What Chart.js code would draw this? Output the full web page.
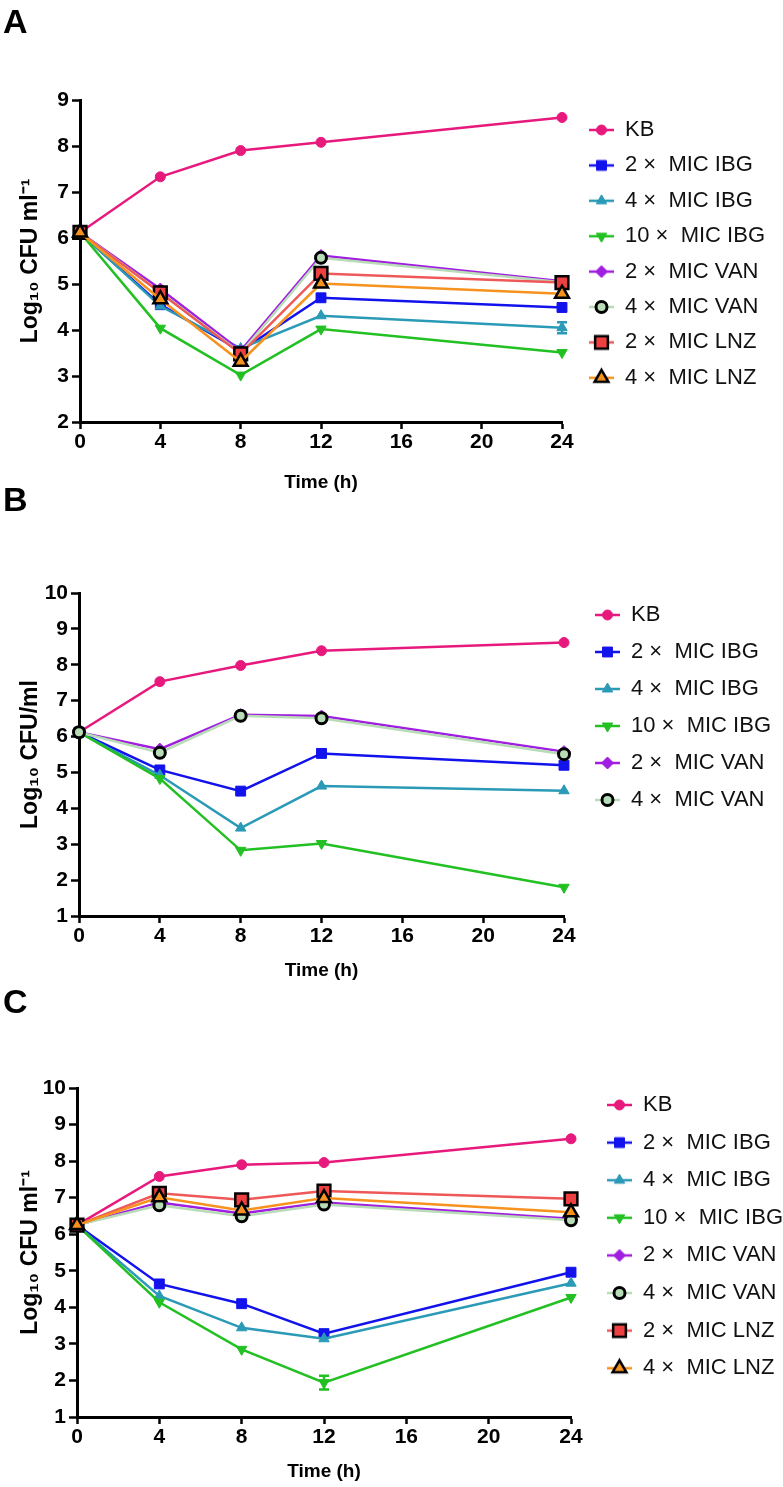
<!DOCTYPE html>
<html>
<head>
<meta charset="utf-8">
<script src="https://cdn.jsdelivr.net/npm/chart.js@4/dist/chart.umd.min.js"></script>
<style>
  body { margin: 0; background: #fff; width: 783px; height: 1487px; position: relative; overflow: hidden; }
  .panel { position: absolute; left: 0; width: 783px; }
  .letter { position: absolute; left: 3px; font: bold 34px/34px "Liberation Sans", Arial, sans-serif; color: #000; }
</style>
</head>
<body>
<div class="panel" style="top:0;height:500px"><canvas id="chartA"></canvas></div>
<div class="panel" style="top:480px;height:505px"><canvas id="chartB"></canvas></div>
<div class="panel" style="top:980px;height:507px"><canvas id="chartC"></canvas></div>
<div class="letter" style="top:4px">A</div>
<div class="letter" style="top:482px">B</div>
<div class="letter" style="top:984px">C</div>
<script>
var FONT = '"Liberation Sans", Arial, Helvetica, sans-serif';

var hours = [0, 4, 8, 12, 24];
var xTickValues = [0, 4, 8, 12, 16, 20, 24];
var yTicksA = [2, 3, 4, 5, 6, 7, 8, 9];
var yTicksBC = [1, 2, 3, 4, 5, 6, 7, 8, 9, 10];
var seriesNames = ["KB", "2 ×  MIC IBG", "4 ×  MIC IBG", "10 ×  MIC IBG", "2 ×  MIC VAN", "4 ×  MIC VAN", "2 ×  MIC LNZ", "4 ×  MIC LNZ"];
var xTitle = "Time (h)";
var yTitleAC = "Log₁₀ CFU ml⁻¹";
var yTitleB = "Log₁₀ CFU/ml";

// panel A
var aKB = [6.12, 7.33, 7.90, 8.08, 8.62];
var aIBG2 = [6.12, 4.55, 3.55, 4.70, 4.49];
var aIBG4 = [6.12, 4.52, 3.60, 4.31, 4.05];
var aIBG10 = [6.12, 4.04, 3.02, 4.02, 3.51];
var aVAN2 = [6.12, 4.89, 3.55, 5.62, 5.06];
var aVAN4 = [6.12, 4.82, 3.50, 5.57, 5.04];
var aLNZ2 = [6.12, 4.81, 3.48, 5.23, 5.03];
var aLNZ4 = [6.12, 4.67, 3.31, 5.01, 4.79];
var aErrIBG4 = [0, 0, 0, 0, 0.12];

// panel B
var bKB = [6.12, 7.53, 7.98, 8.39, 8.62];
var bIBG2 = [6.12, 5.07, 4.48, 5.53, 5.20];
var bIBG4 = [6.12, 4.92, 3.45, 4.62, 4.49];
var bIBG10 = [6.12, 4.83, 2.83, 3.02, 1.80];
var bVAN2 = [6.12, 5.65, 6.61, 6.57, 5.58];
var bVAN4 = [6.12, 5.55, 6.58, 6.51, 5.51];

// panel C
var cKB = [6.25, 7.58, 7.90, 7.96, 8.61];
var cIBG2 = [6.25, 4.64, 4.10, 3.28, 4.96];
var cIBG4 = [6.25, 4.31, 3.44, 3.14, 4.66];
var cIBG10 = [6.25, 4.14, 2.85, 1.94, 4.27];
var cVAN2 = [6.25, 6.87, 6.57, 6.87, 6.42];
var cVAN4 = [6.25, 6.79, 6.49, 6.81, 6.38];
var cLNZ2 = [6.25, 7.12, 6.94, 7.18, 6.97];
var cLNZ4 = [6.25, 7.01, 6.65, 6.99, 6.60];
var cErrIBG10 = [0, 0, 0, 0.19, 0];

var STYLES = [
  { line: "#e8197d", fill: "#e8197d", border: "#e8197d", shape: "circle", r: 5, bw: 1 },
  { line: "#1212ec", fill: "#1212ec", border: "#1212ec", shape: "rect", r: 7, bw: 1 },
  { line: "#2a9ab6", fill: "#2a9ab6", border: "#2a9ab6", shape: "triangle", r: 6, bw: 1 },
  { line: "#22c022", fill: "#22c022", border: "#22c022", shape: "triangle", rot: 180, r: 6, bw: 1 },
  { line: "#a01ee0", fill: "#a01ee0", border: "#a01ee0", shape: "rectRot", r: 6, bw: 1 },
  { line: "#b8dcb6", fill: "#b8dcb6", border: "#000000", shape: "circle", r: 5.5, bw: 3 },
  { line: "#ee5858", fill: "#ee4040", border: "#000000", shape: "rect", r: 9, bw: 2.5 },
  { line: "#f7921e", fill: "#f7921e", border: "#000000", shape: "triangle", r: 8, bw: 2.5 }
];

var PANELS = [
  { id: "chartA", series: [aKB, aIBG2, aIBG4, aIBG10, aVAN2, aVAN4, aLNZ2, aLNZ4], errs: [null, null, aErrIBG4],
    yTicks: yTicksA, yTitle: yTitleAC, canvasH: 500, areaTop: 100, areaBottom: 422, areaLeft: 80, areaRight: 562,
    legendX: 589, legendY: 130, legendPad: 13.4, xTitlePad: 5.6 },
  { id: "chartB", series: [bKB, bIBG2, bIBG4, bIBG10, bVAN2, bVAN4], errs: [],
    yTicks: yTicksBC, yTitle: yTitleB, canvasH: 505, areaTop: 113, areaBottom: 436, areaLeft: 79, areaRight: 564,
    legendX: 595, legendY: 135, legendPad: 15, xTitlePad: 2.6 },
  { id: "chartC", series: [cKB, cIBG2, cIBG4, cIBG10, cVAN2, cVAN4, cLNZ2, cLNZ4], errs: [null, null, null, cErrIBG10],
    yTicks: yTicksBC, yTitle: yTitleAC, canvasH: 507, areaTop: 108, areaBottom: 437, areaLeft: 77, areaRight: 571,
    legendX: 607, legendY: 125, legendPad: 15.6, xTitlePad: 3.6 }
];

function makeIcon(st) {
  var c = document.createElement("canvas");
  c.width = 25;
  c.height = 22;
  var g = c.getContext("2d");
  g.strokeStyle = st.line;
  g.lineWidth = 2.5;
  g.beginPath();
  g.moveTo(0, 11);
  g.lineTo(25, 11);
  g.stroke();
  g.fillStyle = st.fill;
  g.strokeStyle = st.border;
  g.lineWidth = st.bw;
  Chart.helpers.drawPoint(g, { pointStyle: st.shape, radius: st.r, rotation: st.rot || 0, borderWidth: st.bw }, 12.5, 11);
  return c;
}

var icons = STYLES.map(makeIcon);

function buildDatasets(seriesList, errList) {
  return seriesList.map(function (vals, i) {
    var st = STYLES[i];
    return {
      label: seriesNames[i],
      data: vals.map(function (v, j) { return { x: hours[j], y: v }; }),
      err: errList[i] || null,
      borderColor: st.line,
      backgroundColor: st.line,
      borderWidth: 2.5,
      pointStyle: st.shape,
      pointRadius: st.r,
      pointRotation: st.rot || 0,
      pointBackgroundColor: st.fill,
      pointBorderColor: st.border,
      pointBorderWidth: st.bw,
      tension: 0,
      clip: false,
      order: 20 - i
    };
  });
}

var errorBarPlugin = {
  id: "errorBars",
  afterDatasetsDraw: function (chart) {
    var ctx = chart.ctx;
    var ys = chart.scales.y;
    chart.data.datasets.forEach(function (ds, i) {
      if (!ds.err) return;
      var meta = chart.getDatasetMeta(i);
      meta.data.forEach(function (pt, j) {
        var e = ds.err[j];
        if (!e) return;
        var v = ds.data[j].y;
        var y1 = ys.getPixelForValue(v + e);
        var y2 = ys.getPixelForValue(v - e);
        ctx.save();
        ctx.strokeStyle = ds.borderColor;
        ctx.lineWidth = 2.5;
        ctx.beginPath();
        ctx.moveTo(pt.x, y1); ctx.lineTo(pt.x, y2);
        ctx.moveTo(pt.x - 5, y1); ctx.lineTo(pt.x + 5, y1);
        ctx.moveTo(pt.x - 5, y2); ctx.lineTo(pt.x + 5, y2);
        ctx.stroke();
        ctx.restore();
      });
    });
  }
};

// move the legend box next to the plot, where the original has it
var legendPlacePlugin = {
  id: "legendPlace",
  afterLayout: function (chart, args, opts) {
    var lg = chart.legend;
    if (!lg) return;
    var pad = lg.options.labels.padding;
    var fs = lg.options.labels.font.size;
    lg.left = opts.x - pad;
    lg.top = opts.y - fs / 2 - pad;
    lg.right = lg.left + lg.width + 40;
    lg.bottom = lg.top + lg.height + 40;
  }
};

function axisGrid(len) {
  return { drawOnChartArea: false, drawTicks: true, tickLength: len, tickColor: "#000", tickWidth: 2.5 };
}

function renderPanel(p) {
  var canvas = document.getElementById(p.id);
  new Chart(canvas, {
    type: "line",
    data: { datasets: buildDatasets(p.series, p.errs) },
    plugins: [errorBarPlugin, legendPlacePlugin],
    options: {
      animation: false,
      responsive: true,
      maintainAspectRatio: false,
      events: [],
      layout: { padding: { top: p.areaTop, right: 783 - p.areaRight, bottom: 0, left: 0 } },
      plugins: {
        tooltip: { enabled: false },
        legendPlace: { x: p.legendX, y: p.legendY },
        legend: {
          position: "chartArea",
          fullSize: false,
          align: "start",
          labels: {
            usePointStyle: true,
            pointStyleWidth: 25,
            padding: p.legendPad,
            color: "#111",
            font: { family: FONT, size: 22 },
            generateLabels: function (chart) {
              return chart.data.datasets.map(function (ds, i) {
                return {
                  text: ds.label, pointStyle: icons[i], datasetIndex: i, hidden: false,
                  fillStyle: ds.borderColor, strokeStyle: ds.borderColor, lineWidth: 0, fontColor: "#111"
                };
              });
            }
          }
        }
      },
      scales: {
        x: {
          type: "linear", min: 0, max: 24,
          afterBuildTicks: function (s) { s.ticks = xTickValues.map(function (v) { return { value: v }; }); },
          afterFit: function (s) { s.height = p.canvasH - p.areaBottom; },
          border: { color: "#000", width: 3 },
          grid: axisGrid(7),
          ticks: { color: "#000", padding: 1, maxRotation: 0, font: { family: FONT, size: 21, weight: "bold" } },
          title: { display: true, text: xTitle, color: "#000", padding: { top: 0, bottom: p.xTitlePad }, font: { family: FONT, size: 19, weight: "bold" } }
        },
        y: {
          type: "linear", min: p.yTicks[0], max: p.yTicks[p.yTicks.length - 1],
          afterBuildTicks: function (s) { s.ticks = p.yTicks.map(function (v) { return { value: v }; }); },
          afterFit: function (s) { s.width = p.areaLeft; },
          border: { color: "#000", width: 3 },
          grid: axisGrid(8),
          ticks: { color: "#000", padding: 3, font: { family: FONT, size: 21, weight: "bold" } },
          title: { display: true, text: p.yTitle, color: "#000", padding: { top: 17, bottom: 0 }, font: { family: FONT, size: 23, weight: "bold" } }
        }
      }
    }
  });
}

PANELS.forEach(renderPanel);
</script>
</body>
</html>
